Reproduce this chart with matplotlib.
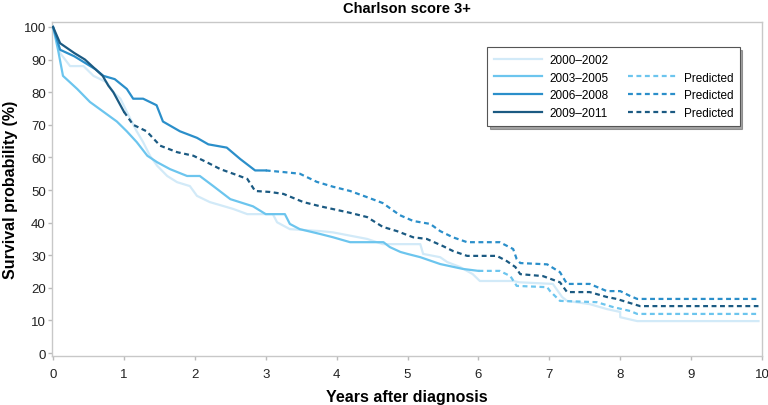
import matplotlib
matplotlib.use("Agg")
import matplotlib.pyplot as plt
from matplotlib.lines import Line2D

plt.rcParams['font.family'] = ['Liberation Sans', 'DejaVu Sans']

title = "Charlson score 3+"
xlabel = "Years after diagnosis"
ylabel = "Survival probability (%)"
xticks = list(range(0, 11))
yticks = list(range(0, 101, 10))

# 2000-2002 observed
x_0002 = [0, 0.1, 0.24, 0.43, 0.57, 0.76, 0.85, 0.95, 1.04, 1.18, 1.27, 1.37, 1.47, 1.61, 1.75, 1.93,
          2.03, 2.21, 2.54, 2.74, 3.1, 3.16, 3.34, 3.77, 3.95, 4.43, 4.65, 5.18, 5.22, 5.46, 5.56, 5.74,
          5.92, 6.02, 6.49, 6.58, 7.05, 7.18, 7.25, 7.57, 7.81, 8.0, 8.0, 8.24, 9.95]
y_0002 = [100, 92, 88, 88, 85, 83, 80, 78, 74, 68, 64.7, 60.4, 57.4, 54.3, 52.4, 51.2,
          48.2, 46.3, 44.2, 42.6, 42.6, 40.1, 38, 37.4, 37, 35, 33.4, 33.4, 30.4, 29.4, 27.9, 26.4,
          24.2, 22.1, 22.1, 21.7, 21.2, 17.2, 16, 15, 13.5, 12.6, 11, 9.8, 9.8]

# 2003-2005 observed and predicted
x_0305 = [0, 0.07, 0.14, 0.34, 0.52, 0.71, 0.9, 1.04, 1.18, 1.33, 1.47, 1.65, 1.89, 2.07, 2.26, 2.5,
          2.82, 3.0, 3.27, 3.34, 3.48, 3.77, 3.95, 4.19, 4.66, 4.75, 4.9, 5.0, 5.18, 5.46, 5.78, 6.0]
y_0305 = [100, 93, 85, 81, 77, 74, 71, 68, 64.7, 60.5, 58.5, 56.4, 54.3, 54.3, 51.2, 47.2,
          45, 42.6, 42.6, 39.6, 38, 36.5, 35.5, 34, 34, 32.5, 31, 30.4, 29.4, 27.3, 25.8, 25.2]
xp_0305 = [6.0, 6.3, 6.45, 6.54, 6.97, 7.01, 7.15, 7.67, 7.9, 8.14, 8.24, 9.95]
yp_0305 = [25.2, 25.2, 23.6, 20.6, 20.2, 19, 16, 15.6, 14.1, 12.9, 12, 12]

# 2006-2008 observed and predicted
x_0608 = [0, 0.1, 0.3, 0.45, 0.6, 0.71, 0.87, 1.04, 1.13, 1.27, 1.46, 1.55, 1.79, 2.03, 2.19, 2.45,
          2.64, 2.85, 3.0]
y_0608 = [100, 93, 91, 89, 87, 85, 84, 81, 78, 78, 76, 71, 68, 66, 64, 63,
          59.5, 56, 56]
xp_0608 = [3.0, 3.25, 3.48, 3.72, 3.95, 4.19, 4.43, 4.65, 4.89, 5.08, 5.32, 5.46, 5.64, 5.84, 6.3,
           6.49, 6.54, 6.59, 6.97, 7.15, 7.25, 7.57, 7.81, 8.0, 8.14, 8.24, 9.95]
yp_0608 = [56, 55.5, 55, 52.5, 51, 49.7, 47.8, 46, 42.3, 40.5, 39.6, 37.4, 35.5, 34, 34,
           31.9, 28.8, 27.6, 27.2, 24.8, 21.2, 21.2, 19, 19, 17.5, 16.6, 16.6]

# 2009-2011 observed and predicted
x_0911 = [0, 0.1, 0.3, 0.45, 0.6, 0.7, 0.78, 0.85, 0.95, 1.0]
y_0911 = [100, 95, 92, 90, 87, 85, 82, 80, 76, 74]
xp_0911 = [1.0, 1.13, 1.32, 1.51, 1.75, 1.98, 2.17, 2.36, 2.54, 2.74, 2.85, 3.06, 3.25, 3.53, 3.77,
           4.19, 4.43, 4.65, 4.85, 5.08, 5.27, 5.5, 5.64, 5.84, 6.26, 6.4, 6.52, 6.59, 6.91, 7.15,
           7.25, 7.57, 7.81, 7.95, 8.1, 8.28, 9.95]
yp_0911 = [74, 70, 68, 63.6, 61.6, 60.5, 58.5, 56.4, 55, 53.4, 49.7, 49.4, 48.8, 46.3, 45,
           43, 41.7, 38.7, 37.4, 35.5, 35, 32.8, 31.3, 29.8, 29.8, 28.2, 26.4, 24.2, 23.6, 21.7,
           18.7, 18.7, 17.2, 16.6, 15.6, 14.4, 14.4]

c0002 = '#d2eaf8'
c0305 = '#6cc5ee'
c0608 = '#2b8fca'
c0911 = '#1b5a82'

fig = plt.figure(figsize=(7.68, 4.06), dpi=100)
ax = fig.add_axes([0.0677, 0.1207, 0.9245, 0.8233])

lw = 1.6
dash = (0, (2.2, 1.6))

ax.plot(x_0002, y_0002, color=c0002, lw=lw, zorder=2)
ax.plot(x_0305, y_0305, color=c0305, lw=lw, zorder=3)
ax.plot(xp_0305, yp_0305, color=c0305, lw=lw, ls=dash, zorder=3)
ax.plot(x_0608, y_0608, color=c0608, lw=lw, zorder=4)
ax.plot(xp_0608, yp_0608, color=c0608, lw=lw, ls=dash, zorder=4)
ax.plot(x_0911, y_0911, color=c0911, lw=lw, zorder=5)
ax.plot(xp_0911, yp_0911, color=c0911, lw=lw, ls=dash, zorder=5)

ax.set_xlim(-0.015, 10.0)
ax.set_ylim(-0.9, 101.6)
ax.set_xticks(xticks)
ax.set_yticks(yticks)
ax.tick_params(axis='both', colors='#bbbbbb', labelcolor='#222222', labelsize=9.5, length=3, width=1)
ax.tick_params(axis='y', pad=1.5)
ax.tick_params(axis='x', pad=6)
for s in ax.spines.values():
    s.set_color('#c8c8c8')
    s.set_linewidth(1)

ax.set_title(title, fontsize=10.5, fontweight='bold', pad=7)
ax.set_xlabel(xlabel, fontsize=11.5, fontweight='bold', labelpad=6)
ax.set_ylabel(ylabel, fontsize=11.5, fontweight='bold')
ax.yaxis.set_label_coords(-0.048, 0.5)

blank = Line2D([], [], color='none')
handles = [
    Line2D([], [], color=c0002, lw=lw),
    Line2D([], [], color=c0305, lw=lw),
    Line2D([], [], color=c0608, lw=lw),
    Line2D([], [], color=c0911, lw=lw),
    blank,
    Line2D([], [], color=c0305, lw=lw, ls=dash),
    Line2D([], [], color=c0608, lw=lw, ls=dash),
    Line2D([], [], color=c0911, lw=lw, ls=dash),
]
labels = ["2000\u20132002", "2003\u20132005", "2006\u20132008", "2009\u20132011",
          "", "Predicted", "Predicted", "Predicted"]
leg = ax.legend(handles, labels, ncol=2, loc='upper left', bbox_to_anchor=(0.6127, 0.924),
                fontsize=8.5, frameon=True, fancybox=False, shadow=True, handlelength=4.1,
                labelspacing=0.5, columnspacing=1.7, borderpad=0.55, handletextpad=0.6,
                borderaxespad=0)
leg.get_frame().set_edgecolor('#555555')
leg.get_frame().set_linewidth(0.8)

fig.savefig('out.png', dpi=100)
